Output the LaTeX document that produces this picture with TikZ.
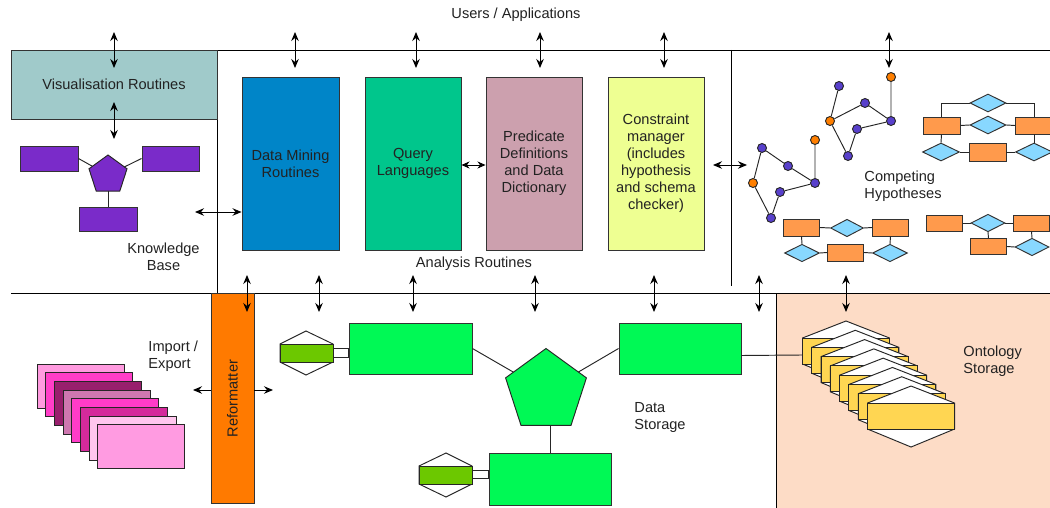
\documentclass[tikz,border=0pt]{standalone}
\usepackage{fontspec}
\setmainfont{Liberation Sans}
\usetikzlibrary{arrows.meta,shapes.geometric,calc}

\definecolor{inkc}{HTML}{222222}
\definecolor{visfill}{HTML}{A0CACA}
\definecolor{minefill}{HTML}{0085C8}
\definecolor{queryfill}{HTML}{00C68C}
\definecolor{predfill}{HTML}{CCA0AE}
\definecolor{consfill}{HTML}{EEFF92}
\definecolor{kbpurple}{HTML}{7A2BC9}
\definecolor{reforange}{HTML}{FF7A00}
\definecolor{storegreen}{HTML}{00F955}
\definecolor{keygreen}{HTML}{6CC800}
\definecolor{ontyellow}{HTML}{FFD652}
\definecolor{ontpeach}{HTML}{FDDCC6}
\definecolor{erorange}{HTML}{FF9A4C}
\definecolor{ercyan}{HTML}{88D8FF}
\definecolor{gblue}{HTML}{5840CC}
\definecolor{gorange}{HTML}{FF7F00}
\definecolor{pkA}{HTML}{FF9ADF}
\definecolor{pkB}{HTML}{FF3EC8}
\definecolor{pkC}{HTML}{981F6D}
\definecolor{pkD}{HTML}{CE77B0}
\definecolor{pkE}{HTML}{FF3CC8}
\definecolor{pkF}{HTML}{D42A9B}
\definecolor{pkG}{HTML}{FFC6EE}
\definecolor{pkH}{HTML}{FF9BE1}

\begin{document}
\begin{tikzpicture}[x=1pt,y=-1pt,line width=0.95pt,
  font=\fontsize{14.6}{17}\selectfont, text=inkc,
  >={Stealth[length=9pt,width=7.5pt,inset=3pt]},
  rbox/.style={draw=black!80,inner sep=0pt,align=center},
  label/.style={inner sep=0pt,align=center},
  pent/.style={regular polygon,regular polygon sides=5,draw=black!85,inner sep=0pt,outer sep=0pt},
  erent/.style={draw=black!80,fill=erorange,inner sep=0pt,minimum width=36pt,minimum height=17pt},
  erdia/.style={diamond,draw=black!80,fill=ercyan,inner sep=0pt,aspect=2,minimum width=35pt,minimum height=17.5pt},
  gdot/.style={circle,draw=black!85,inner sep=0pt,minimum size=9pt,fill=gblue},
  odot/.style={gdot,fill=gorange},
  pinkbox/.style={draw=black!85,inner sep=0pt,minimum width=87pt,minimum height=44pt},
  link/.style={draw=black!85}]
\useasboundingbox (0,0) rectangle (1050,508);

% ---------- ontology storage area (background) ----------
\fill[ontpeach] (776,293) rectangle (1050,508);
\draw (776,293) -- (776,508);

% ---------- frame lines ----------
\draw (217,50) -- (1050,50);
\draw (11,293) -- (1050,293);
\draw (217,119) -- (217,293);
\draw (731,50) -- (731,286);

% ---------- top row boxes ----------
\node[rbox,fill=visfill,minimum width=206pt,minimum height=69pt] (vis) at (114,84.5) {Visualisation Routines};
\node[rbox,fill=minefill,minimum width=97pt,minimum height=173pt] (mine) at (290.5,163.5) {Data Mining\\Routines};
\node[rbox,fill=queryfill,minimum width=96pt,minimum height=173pt] (query) at (413,163.5) {Query\\Languages};
\node[rbox,fill=predfill,minimum width=96pt,minimum height=173pt] (pred) at (534,163.5) {Predicate\\Definitions\\and Data\\Dictionary};
\node[rbox,fill=consfill,minimum width=96pt,minimum height=173pt] (cons) at (656,163.5) {Constraint\\manager\\(includes\\hypothesis\\and schema\\checker)};

% ---------- labels ----------
\node[label] (users) at (516,15) {Users / Applications};
\node[label] (kb) at (163.5,256.5) {Knowledge\\Base};
\node[label] (analysis) at (474,264) {Analysis Routines};
\node[label,anchor=west,align=left] (impexp) at (148,356.5) {Import /\\Export};
\node[label,anchor=west,align=left] (dstore) at (634,417.5) {Data\\Storage};
\node[label,anchor=west,align=left] (ostore) at (963,361) {Ontology\\Storage};
\node[label,anchor=west,align=left] (hyp) at (864,186) {Competing\\Hypotheses};

% ---------- knowledge base ----------
\node[pent,fill=kbpurple,minimum size=40pt] (kbp) at (108,175) {};
\node[rbox,fill=kbpurple,minimum width=58pt,minimum height=25pt] (kb1) at (49,158.5) {};
\node[rbox,fill=kbpurple,minimum width=57pt,minimum height=25pt] (kb2) at (170.5,158.5) {};
\node[rbox,fill=kbpurple,minimum width=58pt,minimum height=24pt] (kb3) at (108,219) {};
\draw[link] (kb1.east) -- (kbp);
\draw[link] (kb2.west) -- (kbp);
\draw[link] (kbp.south) -- (kb3.north);

% ---------- arrows from users / applications ----------
\foreach \x [count=\i] in {114,295,416,540,664,889}{
  \coordinate (ua\i) at (\x,32);
  \coordinate (ub\i) at (\x,68);
  \draw[<->] (ua\i) -- (ub\i);
}
\coordinate (va) at (114,102);
\coordinate (vb) at (114,139);
\draw[<->] (va) -- (vb);

% ---------- arrows between analysis routines ----------
\coordinate (kbr) at (195,212);
\draw[<->] (kbr) -- (kbr -| mine.west);
\draw[<->,>={Stealth[length=8pt,width=7pt,inset=2.5pt]}] (query.east |- 0,165) -- (pred.west |- 0,165);
\coordinate (cr) at (713,165);
\coordinate (hl) at (747,165);
\draw[<->] (cr) -- (hl);

% ---------- arrows down to storage ----------
\foreach \x [count=\i] in {247,319,413,535,654,759,846}{
  \coordinate (da\i) at (\x,275);
  \coordinate (db\i) at (\x,312);
}

% ---------- competing hypotheses: graphs ----------
\node[gdot] (ga) at (762,148) {};
\node[gdot] (gb) at (788,166) {};
\node[odot] (gc) at (815,140) {};
\node[gdot] (gd) at (815,183) {};
\node[odot] (ge) at (753,183) {};
\node[gdot] (gf) at (780,192) {};
\node[gdot] (gg) at (771,218) {};
\draw[link] (ga) -- (gb) -- (gd) -- (gc);
\draw[link] (ga) -- (ge) -- (gg) -- (gf) -- (gd);
\node[gdot] (gh) at (839,86) {};
\node[gdot] (gi) at (865,103) {};
\node[odot] (gj) at (891,77) {};
\node[gdot] (gk) at (891,121) {};
\node[odot] (gl) at (830,121) {};
\node[gdot] (gm) at (857,129) {};
\node[gdot] (gn) at (848,156) {};
\draw[link] (gh) -- (gl) -- (gi) -- (gk) -- (gj);
\draw[link] (gl) -- (gn) -- (gm) -- (gk);

% ---------- competing hypotheses: ER schemas ----------
\node[erdia,minimum width=36pt,minimum height=18pt] (e1d1) at (988,103) {};
\node[erent,minimum width=37pt] (e1r1) at (941.5,125.5) {};
\node[erdia,minimum width=36pt,minimum height=18pt] (e1d2) at (988,125) {};
\node[erent,minimum width=37pt] (e1r2) at (1034,125.5) {};
\node[erdia,minimum width=37pt,minimum height=18pt] (e1d3) at (941,152) {};
\node[erent,minimum width=37pt,minimum height=18pt] (e1r3) at (987.5,152) {};
\node[erdia,minimum width=37pt,minimum height=18pt] (e1d4) at (1034,152) {};
\draw[link] (e1d1.west) -| (e1r1.north);
\draw[link] (e1d1.east) -| (e1r2.north);
\draw[link] (e1r1.east) -- (e1d2.west);
\draw[link] (e1d2.east) -- (e1r2.west);
\draw[link] (e1r1.south) -- (e1d3.north);
\draw[link] (e1r2.south) -- (e1d4.north);
\draw[link] (e1d3.east) -- (e1r3.west);
\draw[link] (e1r3.east) -- (e1d4.west);

\node[erent] (e2r1) at (801.5,227.5) {};
\node[erdia,minimum width=33pt] (e2d1) at (847,228) {};
\node[erent] (e2r2) at (890.5,227.5) {};
\node[erdia] (e2d2) at (802,253) {};
\node[erent] (e2r3) at (845.5,252.5) {};
\node[erdia] (e2d3) at (890,253) {};
\draw[link] (e2r1.east) -- (e2d1.west);
\draw[link] (e2d1.east) -- (e2r2.west);
\draw[link] (e2r1.south) -- (e2d2.north);
\draw[link] (e2r2.south) -- (e2d3.north);
\draw[link] (e2d2.east) -- (e2r3.west);
\draw[link] (e2r3.east) -- (e2d3.west);

\node[erent,minimum height=16pt] (e3r1) at (944.5,223) {};
\node[erdia,minimum width=34pt] (e3d1) at (988,223) {};
\node[erent,minimum height=16pt] (e3r2) at (1031.5,223) {};
\node[erent,minimum height=16pt] (e3r3) at (988.5,246.5) {};
\node[erdia,minimum width=34pt] (e3d2) at (1032,247) {};
\draw[link] (e3r1.east) -- (e3d1.west);
\draw[link] (e3d1.east) -- (e3r2.west);
\draw[link] (e3d1.south) -- (e3r3.north);
\draw[link] (e3r3.east) -- (e3d2.west);
\draw[link] (e3r2.south) -- (e3d2.north);

% ---------- import / export stack ----------
\foreach \c [count=\i from 0] in {pkA,pkB,pkC,pkD,pkE,pkF,pkG,pkH}{
  \node[pinkbox,fill=\c] (pink\i) at (80.5+8.7*\i,386+8.7*\i) {};
}

% ---------- reformatter ----------
\node[rbox,fill=reforange,rotate=90,minimum width=210pt,minimum height=43pt] (ref) at (232.5,398.5) {Reformatter};
\coordinate (refl) at (193,390);
\coordinate (refr) at (273,390);
\draw[->] (ref.north |- refl) -- (refl);
\draw[->] (ref.south |- refr) -- (refr);

% ---------- data storage ----------
\node[pent,fill=storegreen,minimum size=85pt] (dsp) at (546,391) {};
\node[rbox,fill=storegreen,minimum width=123pt,minimum height=51pt] (dsa) at (410.5,348.5) {};
\node[rbox,fill=storegreen,minimum width=122pt,minimum height=51pt] (dsb) at (680,348.5) {};
\node[rbox,fill=storegreen,minimum width=122pt,minimum height=52pt] (dsc) at (550,479) {};
\draw[link] (dsa.east) -- (dsp);
\draw[link] (dsb.west) -- (dsp);
\draw[link] (dsc.north) -- (dsc.north |- dsp.south);

% keyed links on the data stores
\draw[black!85,fill=white] (306,331) -- (333,344) -- (333,362) -- (306,375) -- (280,362) -- (280,344) -- cycle;
\draw[black!85,fill=keygreen] (280,344) rectangle (333,362);
\draw[black!85,fill=white] (333,348) rectangle (dsa.west |- 0,357);
\draw[black!85,fill=white] (446,453) -- (472,466) -- (472,484) -- (446,497) -- (419,484) -- (419,466) -- cycle;
\draw[black!85,fill=keygreen] (419,466) rectangle (472,484);
\draw[black!85,fill=white] (472,470) rectangle (dsc.west |- 0,478);

% ---------- ontology storage stack ----------
\coordinate (ont1) at (802,355);
\draw[link] ($(dsb.east)+(0,7)$) -- (ont1);
\foreach \i in {0,...,7}{
  \pgfmathsetmacro\ox{846+9.29*\i}
  \pgfmathsetmacro\oy{321+9.29*\i}
  \draw[black!85,fill=white] (\ox,\oy) -- ++(43.5,17) -- ++(0,26) -- ++(-43.5,18) -- ++(-43.5,-18) -- ++(0,-26) -- cycle;
  \draw[black!85,fill=ontyellow] (\ox-43.5,\oy+17) rectangle ++(87,26);
}

% ---------- arrows between routines and storage ----------
\foreach \i in {1,...,7}{
  \draw[<->] (da\i) -- (db\i);
}
\end{tikzpicture}
\end{document}
